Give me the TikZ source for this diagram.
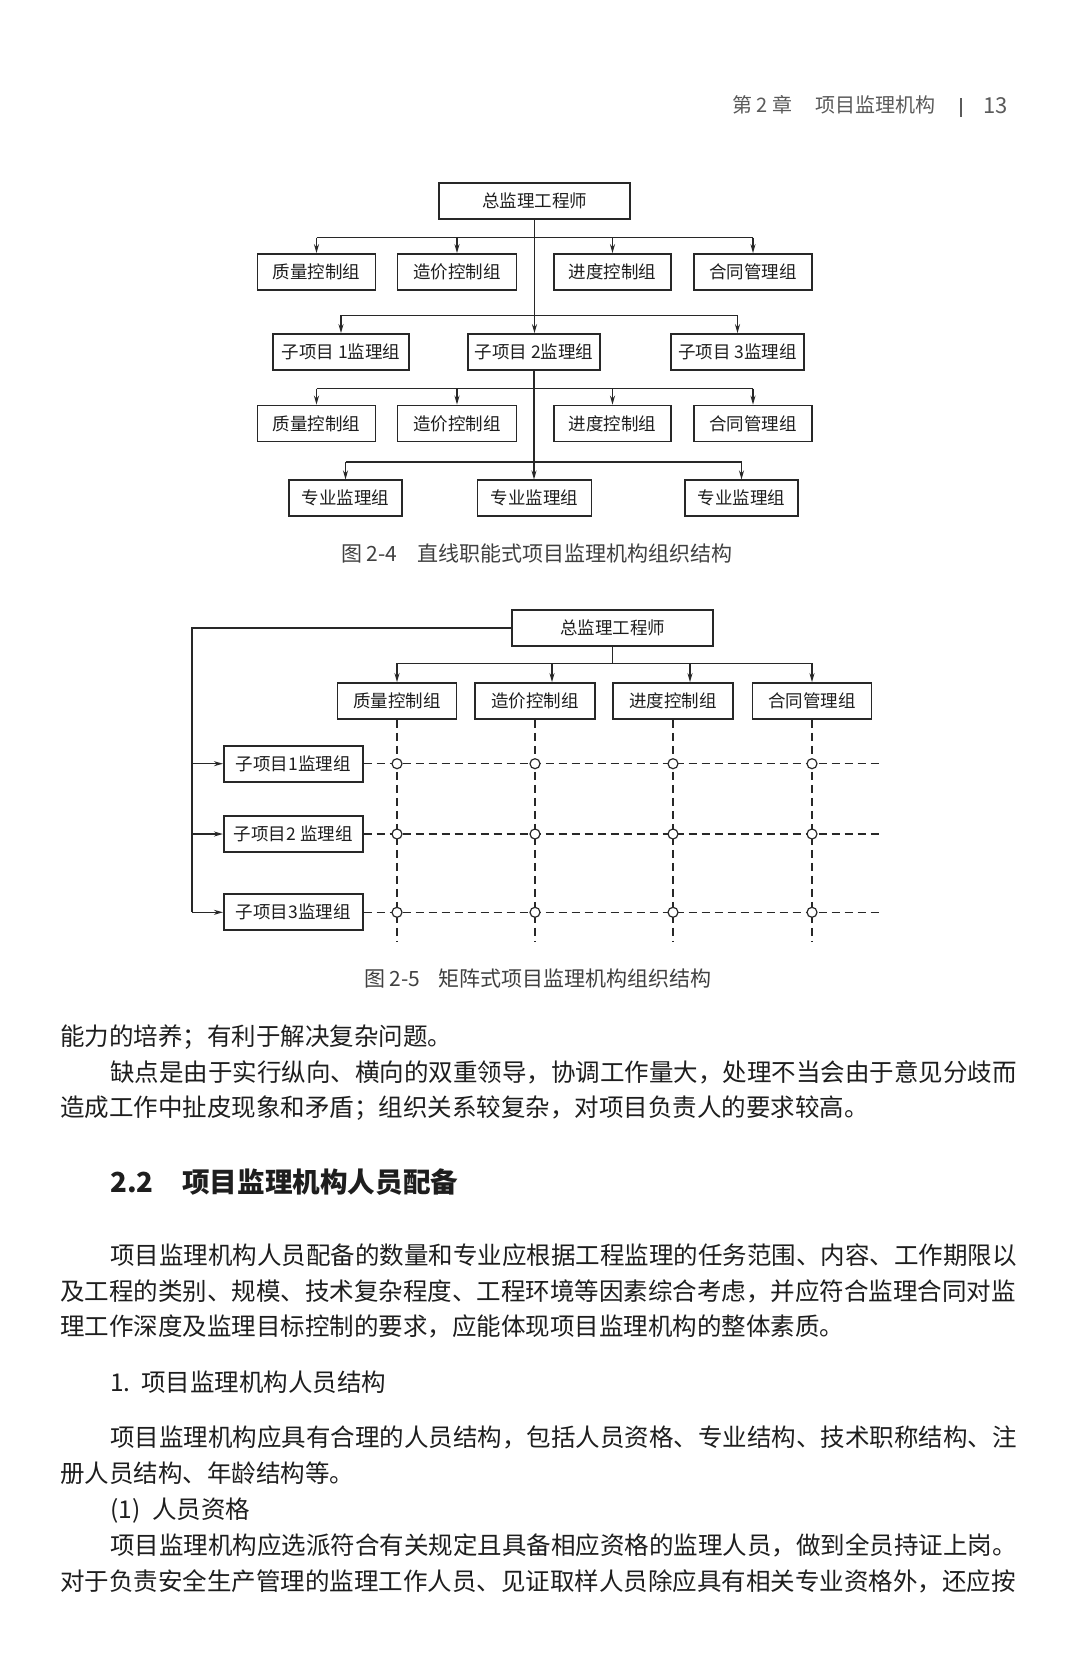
\documentclass[tikz,border=0pt]{standalone}
\usepackage{fontspec}
\setmainfont{Noto Sans CJK SC}
\usetikzlibrary{arrows.meta,positioning}
\definecolor{inkgray}{RGB}{40,40,40}
\definecolor{textgray}{RGB}{30,30,30}
\definecolor{headgray}{RGB}{90,90,90}

\begin{document}
\begin{tikzpicture}[x=1pt, y=-1pt,
  box/.style={draw=inkgray, line width=1.7pt, minimum height=36pt, inner sep=0pt,
              text=textgray, font=\fontsize{17.5}{20}\selectfont},
  link/.style={draw=inkgray, line width=1.4pt},
  arrow/.style={link, -{Stealth[length=9pt,width=5pt]}},
  dashlink/.style={link, line width=1.5pt, dash pattern=on 8pt off 5pt},
  joint/.style={circle, draw=inkgray, fill=white, line width=1.2pt,
                minimum size=10pt, inner sep=0pt},
  bodytext/.style={anchor=base west, inner sep=0pt, text=textgray,
                   font=\fontsize{24.5}{30}\selectfont},
  captext/.style={anchor=base west, inner sep=0pt, text=textgray!85,
                  font=\fontsize{21}{25}\selectfont},
  headtext/.style={anchor=base west, inner sep=0pt, text=headgray,
                   font=\fontsize{20}{24}\selectfont}
]
\useasboundingbox (0,0) rectangle (1080,1663);
\fill[white] (0,0) rectangle (1080,1663);

% Running head
\node[headtext] (chapno) at (732,112.6) {第 2 章};
\node[headtext] (chaptitle) at (815,112.6) {项目监理机构};
\draw[headgray, line width=1.2pt] (961,98) -- (961,117);
\node[headtext, font=\fontsize{22}{26}\selectfont] (pageno) at (983,113) {13};

% Figure 2-4: boxes
\node[box, minimum width=191pt] (top1) at (534.5,201) {总监理工程师};
\node[box, minimum width=118pt] (q1) at (316.5,272) {质量控制组};
\node[box, minimum width=119pt] (c1) at (457,272) {造价控制组};
\node[box, minimum width=117pt] (p1) at (612.5,272) {进度控制组};
\node[box, minimum width=118pt] (h1) at (753,272) {合同管理组};
\node[box, minimum width=136pt] (s1) at (341,352) {子项目 1监理组};
\node[box, minimum width=132pt] (s2) at (534,352) {子项目 2监理组};
\node[box, minimum width=133pt] (s3) at (737.5,352) {子项目 3监理组};
\node[box, minimum width=118pt] (q3) at (316.5,423.5) {质量控制组};
\node[box, minimum width=119pt] (c3) at (457,423.5) {造价控制组};
\node[box, minimum width=117pt] (p3) at (612.5,423.5) {进度控制组};
\node[box, minimum width=118pt] (h3) at (753,423.5) {合同管理组};
\node[box, minimum width=113pt] (z1) at (345.5,498.3) {专业监理组};
\node[box, minimum width=114pt] (z2) at (534.6,498.3) {专业监理组};
\node[box, minimum width=113pt] (z3) at (741.5,498.3) {专业监理组};

% Figure 2-4: connectors
\coordinate (bus1) at (535,237.7);
\coordinate (bus2) at (535,315.3);
\coordinate (bus3) at (535,388.7);
\coordinate (bus4) at (535,462);
\draw[arrow] (top1.south) -- (top1.south |- s2.north);
\draw[link] (bus1 -| q1) -- (bus1 -| h1);
\draw[arrow] (bus1 -| q1) -- (q1.north);
\draw[arrow] (bus1 -| c1) -- (c1.north);
\draw[arrow] (bus1 -| p1) -- (p1.north);
\draw[arrow] (bus1 -| h1) -- (h1.north);
\draw[link] (bus2 -| s1) -- (bus2 -| s3);
\draw[arrow] (bus2 -| s1) -- (s1.north);
\draw[arrow] (bus2 -| s3) -- (s3.north);
\draw[arrow] (s2.south) -- (s2.south |- z2.north);
\draw[link] (bus3 -| q3) -- (bus3 -| h3);
\draw[arrow] (bus3 -| q3) -- (q3.north);
\draw[arrow] (bus3 -| c3) -- (c3.north);
\draw[arrow] (bus3 -| p3) -- (p3.north);
\draw[arrow] (bus3 -| h3) -- (h3.north);
\draw[link] (bus4 -| z1) -- (bus4 -| z3);
\draw[arrow] (bus4 -| z1) -- (z1.north);
\draw[arrow] (bus4 -| z3) -- (z3.north);

\node[captext] (cap1num) at (341,561.3) {图 2-4};
\node[captext] (cap1) at (417.5,561.3) {直线职能式项目监理机构组织结构};

% Figure 2-5: boxes
\node[box, minimum width=201pt] (top2) at (612.5,628) {总监理工程师};
\node[box, minimum width=119pt] (q2) at (397,701) {质量控制组};
\node[box, minimum width=120pt] (c2) at (535,701) {造价控制组};
\node[box, minimum width=120pt] (p2) at (673,701) {进度控制组};
\node[box, minimum width=119pt] (h2) at (812,701) {合同管理组};
\node[box, minimum width=139pt] (r1) at (293.3,763.7) {子项目1监理组};
\node[box, minimum width=139pt] (r2) at (293.3,834) {子项目2 监理组};
\node[box, minimum width=139pt] (r3) at (293.3,912.3) {子项目3监理组};

% Figure 2-5: connectors
\coordinate (bus5) at (612.5,663.3);
\coordinate (rail) at (192,628);
\coordinate (gridend) at (883,942);
\draw[link] (top2.south) -- (bus5);
\draw[link] (bus5 -| q2) -- (bus5 -| h2);
\draw[arrow] (bus5 -| q2) -- (q2.north);
\draw[arrow] ([xshift=17pt]bus5 -| c2) -- ([xshift=17pt]c2.north);
\draw[arrow] ([xshift=17pt]bus5 -| p2) -- ([xshift=17pt]p2.north);
\draw[arrow] (bus5 -| h2) -- (h2.north);
\draw[link] (top2.west) -- (rail) -- (rail |- r3);
\draw[arrow] (rail |- r1) -- (r1.west);
\draw[arrow] (rail |- r2) -- (r2.west);
\draw[arrow] (rail |- r3) -- (r3.west);

% Matrix grid
\draw[dashlink] (q2.south) -- (q2 |- gridend);
\draw[dashlink] (c2.south) -- (c2 |- gridend);
\draw[dashlink] (p2.south) -- (p2 |- gridend);
\draw[dashlink] (h2.south) -- (h2 |- gridend);
\draw[dashlink] (r1.east) -- (r1 -| gridend);
\draw[dashlink] (r2.east) -- (r2 -| gridend);
\draw[dashlink] (r3.east) -- (r3 -| gridend);
\node[joint] (j11) at (r1 -| q2) {}; \node[joint] (j12) at (r1 -| c2) {};
\node[joint] (j13) at (r1 -| p2) {}; \node[joint] (j14) at (r1 -| h2) {};
\node[joint] (j21) at (r2 -| q2) {}; \node[joint] (j22) at (r2 -| c2) {};
\node[joint] (j23) at (r2 -| p2) {}; \node[joint] (j24) at (r2 -| h2) {};
\node[joint] (j31) at (r3 -| q2) {}; \node[joint] (j32) at (r3 -| c2) {};
\node[joint] (j33) at (r3 -| p2) {}; \node[joint] (j34) at (r3 -| h2) {};

\node[captext] (cap2num) at (364,986) {图 2-5};
\node[captext] (cap2) at (438,986) {矩阵式项目监理机构组织结构};

% Body text
\node[bodytext] (line1) at (60,1045.3) {能力的培养；有利于解决复杂问题。};
\node[bodytext] (line2) at (110,1081.1) {缺点是由于实行纵向、横向的双重领导，协调工作量大，处理不当会由于意见分歧而};
\node[bodytext] (line3) at (60,1116.9) {造成工作中扯皮现象和矛盾；组织关系较复杂，对项目负责人的要求较高。};

\node[bodytext, font=\fontsize{27.6}{32}\selectfont\bfseries] (secno) at (110,1192.5) {2.2};
\node[bodytext, font=\fontsize{27.6}{32}\selectfont\bfseries] (sectitle) at (182,1192.5) {项目监理机构人员配备};

\node[bodytext] (line4) at (110,1264.3) {项目监理机构人员配备的数量和专业应根据工程监理的任务范围、内容、工作期限以};
\node[bodytext] (line5) at (60,1300.1) {及工程的类别、规模、技术复杂程度、工程环境等因素综合考虑，并应符合监理合同对监};
\node[bodytext] (line6) at (60,1335.9) {理工作深度及监理目标控制的要求，应能体现项目监理机构的整体素质。};

\node[bodytext] (subno) at (110,1391.8) {1.};
\node[bodytext] (subtitle) at (141,1391.8) {项目监理机构人员结构};

\node[bodytext] (line7) at (110,1446.8) {项目监理机构应具有合理的人员结构，包括人员资格、专业结构、技术职称结构、注};
\node[bodytext] (line8) at (60,1482.6) {册人员结构、年龄结构等。};
\node[bodytext] (line9) at (110,1518.3) {(1)\hspace{12pt}人员资格};
\node[bodytext] (line10) at (110,1554.2) {项目监理机构应选派符合有关规定且具备相应资格的监理人员，做到全员持证上岗。};
\node[bodytext] (line11) at (60,1590) {对于负责安全生产管理的监理工作人员、见证取样人员除应具有相关专业资格外，还应按};

\end{tikzpicture}
\end{document}
